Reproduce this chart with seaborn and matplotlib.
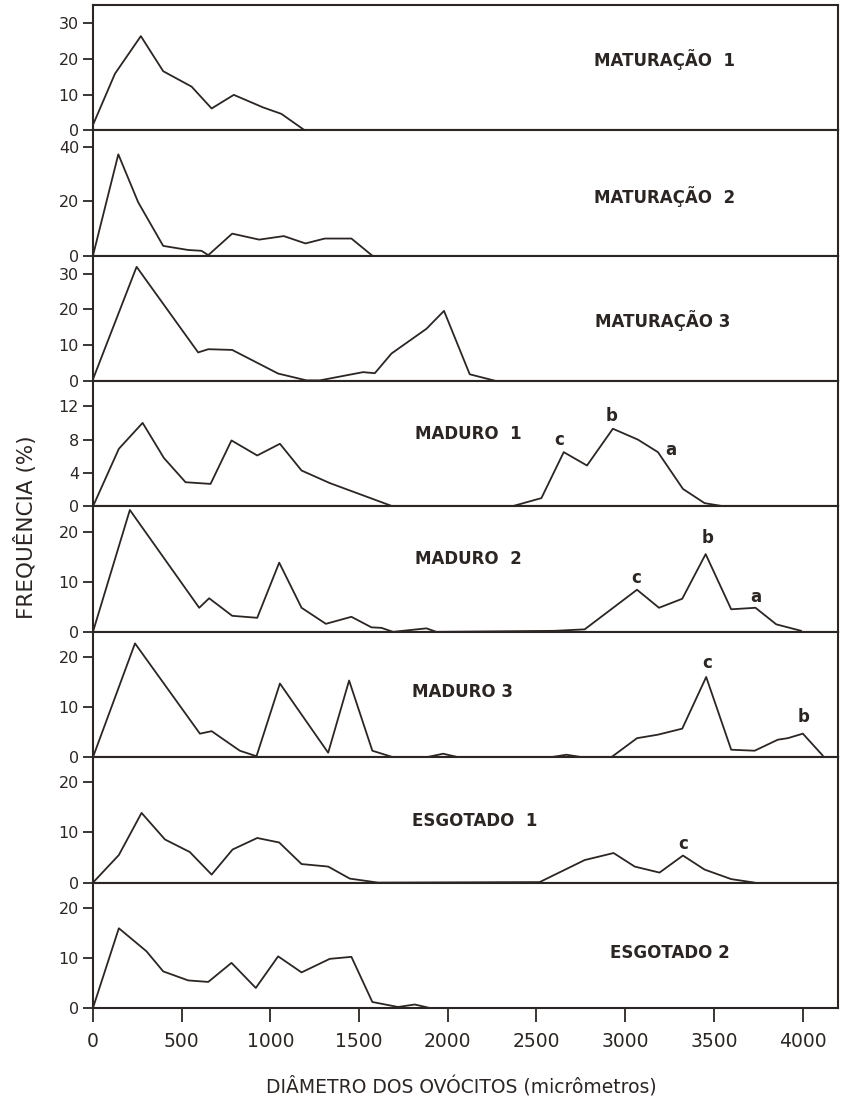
import seaborn as sns
import matplotlib.pyplot as plt

# diametro (micrometros) e frequencia (%), um par de listas por estadio
mat1_x = [0, 124, 270, 396, 556, 669, 794, 959, 1062, 1194]
mat1_y = [1.5, 15.8, 26.3, 16.5, 12.2, 6.1, 9.9, 6.4, 4.6, 0]

mat2_x = [0, 143, 255, 396, 537, 612, 650, 785, 937, 1076, 1198, 1307, 1457, 1575]
mat2_y = [0, 37.2, 19.6, 3.6, 2.1, 1.8, 0.2, 8.1, 5.9, 7.2, 4.5, 6.3, 6.3, 0]

mat3_x = [0, 246, 593, 650, 785, 1044, 1204, 1279, 1523, 1589, 1683, 1880, 1979,
          2124, 2274]
mat3_y = [0.5, 31.9, 8.0, 8.9, 8.7, 2.1, 0.2, 0.2, 2.5, 2.2, 7.7, 14.6, 19.6,
          1.9, 0]

mad1_x = [0, 146, 280, 400, 522, 663, 781, 926, 1054, 1176, 1335, 1692, 2359,
          2528, 2654, 2785, 2931, 3072, 3185, 3326, 3448, 3561]
mad1_y = [0, 6.9, 10.0, 5.8, 2.9, 2.7, 7.9, 6.1, 7.5, 4.3, 2.8, 0, 0,
          1.0, 6.5, 4.9, 9.3, 8.0, 6.5, 2.1, 0.4, 0]

mad2_x = [0, 208, 599, 655, 785, 926, 1050, 1176, 1313, 1457, 1570, 1626, 1692,
          1880, 1936, 2600, 2772, 3067, 3191, 3322, 3454, 3598, 3735, 3852, 3993]
mad2_y = [0, 24.3, 4.8, 6.7, 3.2, 2.8, 13.8, 4.8, 1.6, 3.0, 0.9, 0.8, 0,
          0.7, 0, 0.2, 0.5, 8.4, 4.8, 6.6, 15.5, 4.5, 4.8, 1.5, 0.2]

mad3_x = [0, 237, 603, 669, 828, 922, 1054, 1326, 1444, 1575, 1692, 1880, 1974,
          2060, 2580, 2669, 2760, 2922, 3067, 3185, 3322, 3457, 3598, 3730,
          3861, 3917, 4002, 4115]
mad3_y = [0, 22.7, 4.7, 5.2, 1.3, 0.2, 14.7, 0.9, 15.3, 1.3, 0, 0, 0.7,
          0, 0, 0.5, 0, 0, 3.8, 4.5, 5.7, 16.0, 1.5, 1.3,
          3.5, 3.8, 4.7, 0.3]

esg1_x = [0, 146, 274, 406, 546, 669, 787, 926, 1050, 1176, 1326, 1448, 1608,
          2518, 2772, 2935, 3054, 3194, 3326, 3448, 3598, 3730]
esg1_y = [0, 5.5, 13.9, 8.6, 6.1, 1.6, 6.6, 8.9, 8.0, 3.7, 3.2, 0.8, 0,
          0.1, 4.5, 5.9, 3.2, 2.0, 5.4, 2.6, 0.7, 0]

esg2_x = [0, 146, 302, 396, 537, 650, 781, 918, 1044, 1176, 1335, 1457, 1575,
          1720, 1814, 1899]
esg2_y = [0, 15.9, 11.3, 7.3, 5.5, 5.2, 9.0, 4.0, 10.3, 7.1, 9.8, 10.2, 1.2,
          0.2, 0.7, 0]

stages = ["MATURAÇÃO  1", "MATURAÇÃO  2", "MATURAÇÃO 3", "MADURO  1",
          "MADURO  2", "MADURO 3", "ESGOTADO  1", "ESGOTADO 2"]
series = [(mat1_x, mat1_y), (mat2_x, mat2_y), (mat3_x, mat3_y),
          (mad1_x, mad1_y), (mad2_x, mad2_y), (mad3_x, mad3_y),
          (esg1_x, esg1_y), (esg2_x, esg2_y)]
y_max = [35, 46, 35, 15, 25, 25, 25, 25]
y_ticks = [[0, 10, 20, 30], [0, 20, 40], [0, 10, 20, 30], [0, 4, 8, 12],
           [0, 10, 20], [0, 10, 20], [0, 10, 20], [0, 10, 20]]
x_ticks = [0, 500, 1000, 1500, 2000, 2500, 3000, 3500, 4000]

# letras das modas (painel, letra, x, y)
modes = [(3, "c", 2631, 8.0), (3, "b", 2924, 10.8), (3, "a", 3256, 6.7),
         (4, "c", 3065, 10.8), (4, "b", 3465, 18.7), (4, "a", 3735, 7.0),
         (5, "c", 3465, 18.8), (5, "b", 4006, 8.0),
         (6, "c", 3330, 7.8)]

# posicao do nome do estadio (fracao dos eixos)
label_pos = [(0.672, 0.567), (0.672, 0.475), (0.674, 0.483), (0.432, 0.576),
             (0.432, 0.582), (0.428, 0.518), (0.428, 0.493), (0.694, 0.442)]

ink = "#2b2624"

sns.set_style("ticks")
plt.rcParams["font.family"] = ["DejaVu Sans"]
plt.rcParams["text.color"] = ink
plt.rcParams["axes.edgecolor"] = ink
plt.rcParams["xtick.color"] = ink
plt.rcParams["ytick.color"] = ink

fig, axes = plt.subplots(8, 1, figsize=(8.45, 10.99), dpi=100, sharex=True,
                         gridspec_kw={"hspace": 0})
fig.subplots_adjust(left=0.110, right=0.9917, top=0.9955, bottom=0.0828)

for i, ax in enumerate(axes):
    xs, ys = series[i]
    sns.lineplot(x=xs, y=ys, ax=ax, color=ink, linewidth=1.3,
                 estimator=None, sort=False)
    ax.set_xlim(0, 4200)
    ax.set_ylim(0, y_max[i])
    ax.set_yticks(y_ticks[i])
    ax.tick_params(axis="y", direction="out", length=7, width=1.3,
                   labelsize=11.5, pad=3)
    for s in ax.spines.values():
        s.set_visible(True)
        s.set_linewidth(1.5)
    ax.text(label_pos[i][0], label_pos[i][1], stages[i], transform=ax.transAxes,
            fontsize=12, fontweight="bold", va="center", ha="left")
    if i < 7:
        ax.tick_params(axis="x", bottom=False, labelbottom=False)

for i, letter, x, y in modes:
    axes[i].text(x, y, letter, fontsize=12, fontweight="bold",
                 ha="center", va="center")

axes[-1].set_xticks(x_ticks)
axes[-1].tick_params(axis="x", direction="out", length=10, width=1.3,
                     labelsize=13.5, pad=7)

fig.text(0.0296, 0.5205, "FREQUÊNCIA (%)", rotation=90, fontsize=15.5,
         ha="center", va="center")
fig.text(0.546, 0.011, "DIÂMETRO DOS OVÓCITOS (micrômetros)", fontsize=13.5,
         ha="center", va="center")

fig.savefig("out.png", dpi=100)
